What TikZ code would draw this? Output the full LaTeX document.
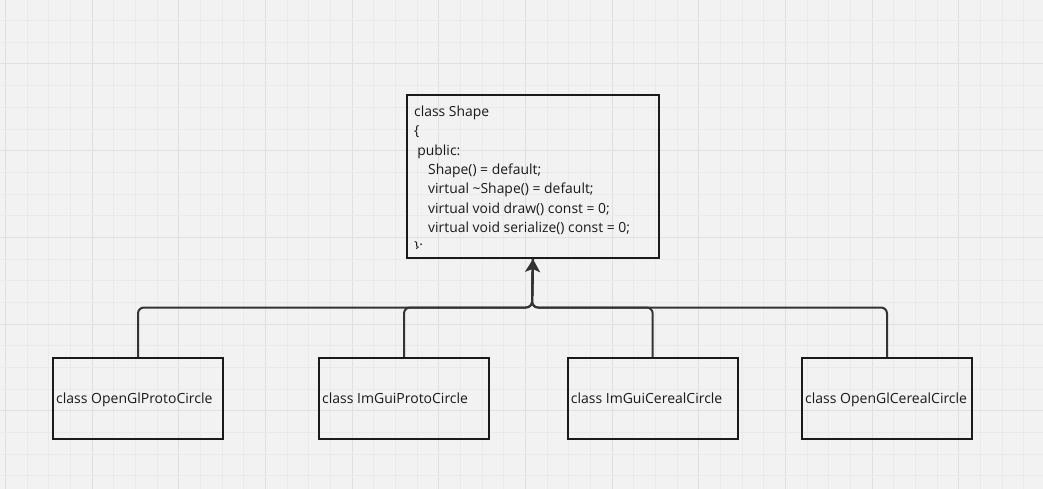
\documentclass[tikz,border=0pt]{standalone}
\usepackage{fontspec}
\setmainfont{Open Sans}
\usetikzlibrary{arrows.meta}
\definecolor{bg}{HTML}{F2F2F2}
\definecolor{minorg}{HTML}{EAEAEA}
\definecolor{majorg}{HTML}{E0E0E0}
\definecolor{ink}{HTML}{1A1A1A}
\definecolor{wire}{HTML}{333333}
\tikzset{
  classbox/.style={draw=ink, line width=2pt, minimum width=170pt, minimum height=81pt,
    inner sep=0pt, anchor=north west},
  classtext/.style={anchor=west, inner sep=0pt, font=\fontsize{14}{16}\selectfont, text=ink},
  codeline/.style={anchor=base west, inner sep=0pt, font=\fontsize{13.9}{16}\selectfont, text=ink},
  conn/.style={draw=wire, line width=2pt, rounded corners=6pt},
}
\begin{document}
\begin{tikzpicture}[x=1pt,y=-1pt]
\useasboundingbox (0,0) rectangle (1043,489);
\fill[bg] (0,0) rectangle (1043,489);
% grid
\foreach \i in {-1,...,48} {
  \pgfmathsetmacro\xx{5.5+\i*21.667}
  \pgfmathtruncatemacro\mm{mod(\i+4,4)}
  \ifnum\mm=0
    \draw[majorg, line width=1pt] (\xx,0) -- (\xx,489);
  \else
    \draw[minorg, line width=0.8pt] (\xx,0) -- (\xx,489);
  \fi
}
\foreach \j in {-3,...,20} {
  \pgfmathsetmacro\yy{64+\j*21.667}
  \pgfmathtruncatemacro\mm{mod(\j+4,4)}
  \ifnum\mm=0
    \draw[majorg, line width=1pt] (0,\yy) -- (1043,\yy);
  \else
    \draw[minorg, line width=0.8pt] (0,\yy) -- (1043,\yy);
  \fi
}
% parent box
\node[draw=ink, line width=2pt, minimum width=252pt, minimum height=163pt, anchor=north west, inner sep=0pt] (shape) at (406,94) {};
\begin{scope}
\clip (407,95) rectangle (657,248.5);
\node[codeline] (l1) at (414,116.5) {class Shape};
\node[codeline] (l2) at (414,135.8) {\{};
\node[codeline] (l3) at (414,155.1) {\hspace{3.2pt}public:};
\node[codeline] (l4) at (414,174.4) {\hspace{14pt}Shape() = default;};
\node[codeline] (l5) at (414,193.7) {\hspace{14pt}virtual \textasciitilde Shape() = default;};
\node[codeline] (l6) at (414,213.0) {\hspace{14pt}virtual void draw() const = 0;};
\node[codeline] (l7) at (414,232.3) {\hspace{14pt}virtual void serialize() const = 0;};
\node[codeline] (l8) at (414,251.6) {\};};
\end{scope}
% children
\node[classbox] (c1) at (52,357) {};
\node[classbox] (c2) at (318,357) {};
\node[classbox] (c3) at (566.7,357) {};
\node[classbox] (c4) at (801,357) {};
\node[classtext] (t1) at ([xshift=4pt,yshift=-2pt]c1.west) {\strut class OpenGlProtoCircle};
\node[classtext] (t2) at ([xshift=4pt,yshift=-2pt]c2.west) {\strut class ImGuiProtoCircle};
\node[classtext] (t3) at ([xshift=4pt,yshift=-2pt]c3.west) {\strut class ImGuiCerealCircle};
\node[classtext] (t4) at ([xshift=4pt,yshift=-2pt]c4.west) {\strut class OpenGlCerealCircle};
\coordinate (j) at (532,307.5);
\foreach \c in {c1,c2,c3,c4} {
  \draw[conn] (\c.north) |- (j) -- (shape.south);
}
\draw[draw=wire, line width=2pt, -{Stealth[length=13pt,width=15pt,inset=3pt]}] (532,290) -- (shape.south);
\end{tikzpicture}
\end{document}
